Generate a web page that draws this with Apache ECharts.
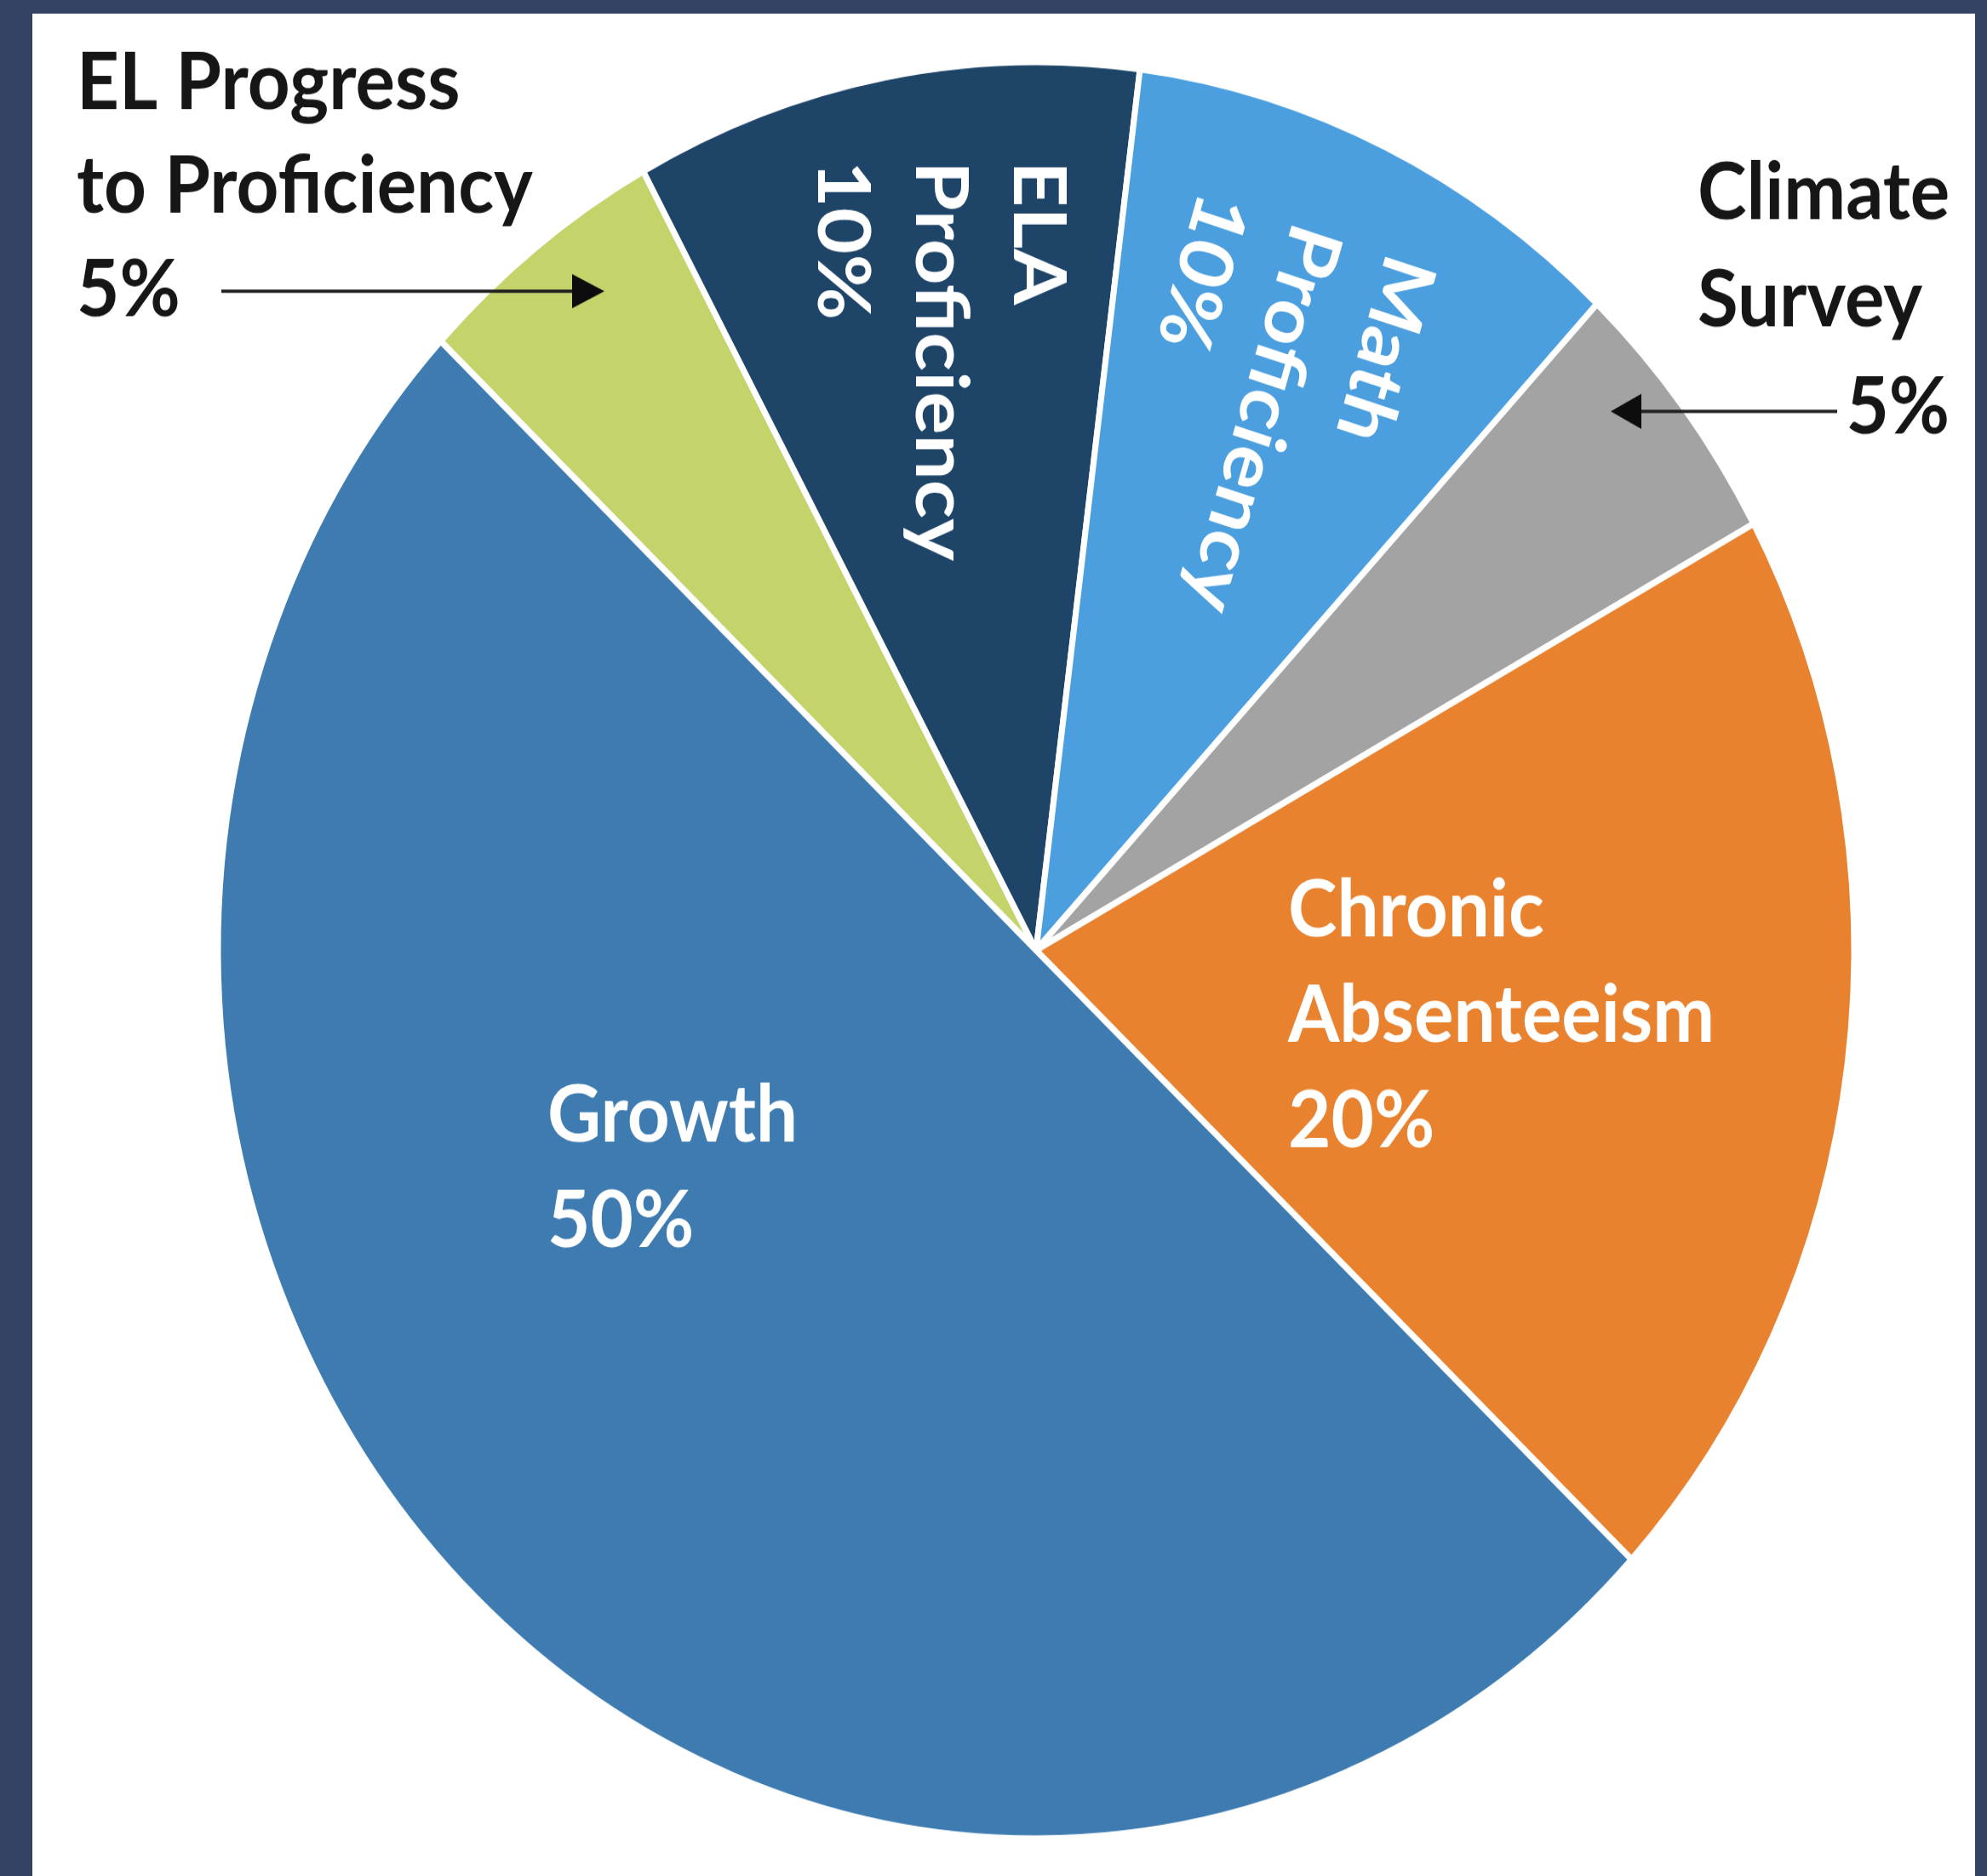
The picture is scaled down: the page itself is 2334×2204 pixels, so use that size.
<!DOCTYPE html>
<html><head><meta charset="utf-8">
<script src="https://cdn.jsdelivr.net/npm/echarts@6/dist/echarts.min.js"></script>
<style>
html,body{margin:0;padding:0;background:#344263;width:2334px;height:2204px;overflow:hidden}
#panel{position:absolute;left:38px;top:16px;width:2282px;height:2188px;background:#ffffff}
#chart{position:absolute;left:0;top:0;width:2334px;height:2030px;transform:scaleY(1.086);transform-origin:0 0}
</style></head><body>
<div id="panel"></div><div id="chart"></div>
<script>
// ---- data ----
const categories = ['EL Progress to Proficiency', 'ELA Proficiency', 'Math Proficiency', 'Climate Survey', 'Chronic Absenteeism', 'Growth'];
const labelLines = [['EL Progress', 'to Proficiency'], ['ELA', 'Proficiency'], ['Math', 'Proficiency'], ['Climate', 'Survey'], ['Chronic', 'Absenteeism'], ['Growth']];
const values = [5, 10, 10, 5, 20, 50];

// ---- styles ----
const colors = ['#c5d36b', '#1e4468', '#4b9fdf', '#a3a3a3', '#e8822f', '#3d7bb1'];
const textColors = ['#161616', '#ffffff', '#ffffff', '#161616', '#ffffff', '#ffffff'];
const FONT = 'Lato';
const FS = 87;
// label anchors (chart coordinates, before vertical stretch)
const labelPlace = [
  {x: 90, y: 34, rotate: 0, lh: 112},
  {x: 1277, y: 174, rotate: -90, lh: 115},
  {x: 1711, y: 296, rotate: -107, lh: 115},
  {x: 1994, y: 151, rotate: 0, lh: 116},
  {x: 1513, y: 928, rotate: 0, lh: 114},
  {x: 643, y: 1150, rotate: 0, lh: 114}
];

const chart = echarts.init(document.getElementById('chart'), null, {renderer: 'canvas'});

const data = categories.map((name, i) => ({
  name: name,
  value: values[i],
  itemStyle: {color: colors[i]},
  label: {
    color: textColors[i],
    rich: {
      n: {fontFamily: FONT, fontWeight: 'bold', fontSize: FS, lineHeight: labelPlace[i].lh, color: textColors[i], align: 'left'},
      p: {fontFamily: FONT, fontWeight: 'bold', fontSize: FS, lineHeight: labelPlace[i].lh, color: textColors[i], align: i === 3 ? 'right' : 'left'}
    }
  }
}));

chart.setOption({
  backgroundColor: 'transparent',
  animation: false,
  series: [{
    type: 'pie',
    center: [1217, 1028],
    radius: 961,
    startAngle: 136.7,
    clockwise: true,
    avoidLabelOverlap: false,
    emphasis: {disabled: true},
    itemStyle: {borderColor: '#ffffff', borderWidth: 7},
    label: {
      show: true,
      position: 'inside',
      formatter: function (p) {
        const lines = labelLines[p.dataIndex].map(s => '{n|' + s + '}');
        lines.push('{p|' + p.value + '%}');
        return lines.join('\n');
      }
    },
    labelLine: {show: false},
    labelLayout: function (params) {
      const lp = labelPlace[params.dataIndex];
      return {x: lp.x, y: lp.y, rotate: lp.rotate, align: 'left', verticalAlign: 'top'};
    },
    data: data
  }],
  graphic: [
    {type: 'line', z: 100, shape: {x1: 260, y1: 315, x2: 680, y2: 315}, style: {stroke: '#1e1e1e', lineWidth: 3.7}},
    {type: 'polygon', z: 100, shape: {points: [[710, 315], [672, 296.5], [672, 333.5]]}, style: {fill: '#0d0d0d'}},
    {type: 'line', z: 100, shape: {x1: 2158, y1: 445, x2: 1920, y2: 445}, style: {stroke: '#1e1e1e', lineWidth: 3.7}},
    {type: 'polygon', z: 100, shape: {points: [[1892, 445], [1928, 426], [1928, 464]]}, style: {fill: '#0d0d0d'}}
  ]
});
</script>
</body></html>
